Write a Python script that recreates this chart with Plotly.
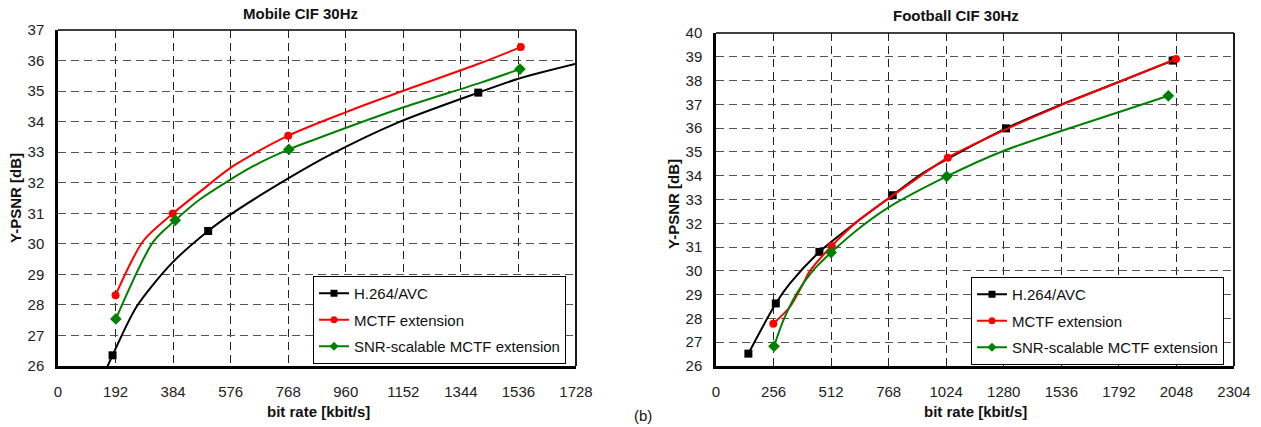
import plotly.graph_objects as go

W, H = 1261, 427

# ---------------- data: Mobile CIF 30Hz ----------------
mob_x_ticks = [0, 192, 384, 576, 768, 960, 1152, 1344, 1536, 1728]
mob_y_ticks = list(range(26, 38))

mob_h264_curve_x = [162, 182, 262, 379, 501, 585, 768, 907, 1141, 1402, 1541, 1747]
mob_h264_curve_y = [25.92, 26.35, 27.94, 29.36, 30.42, 31.02, 32.14, 32.91, 34.0, 34.95, 35.42, 35.94]
mob_h264_mark_x = [182, 501, 1402]
mob_h264_mark_y = [26.35, 30.42, 34.95]

mob_mctf_curve_x = [192, 285, 383, 474, 585, 768, 963, 1152, 1408, 1544]
mob_mctf_curve_y = [28.32, 30.1, 30.99, 31.71, 32.55, 33.54, 34.32, 35.01, 35.91, 36.44]
mob_mctf_mark_x = [192, 383, 768, 1544]
mob_mctf_mark_y = [28.32, 30.99, 33.54, 36.44]

mob_snr_curve_x = [193, 318, 391, 474, 651, 770, 852, 1141, 1408, 1541]
mob_snr_curve_y = [27.54, 30.07, 30.77, 31.46, 32.54, 33.09, 33.40, 34.43, 35.27, 35.72]
mob_snr_mark_x = [193, 391, 770, 1541]
mob_snr_mark_y = [27.54, 30.77, 33.09, 35.72]

# ---------------- data: Football CIF 30Hz ----------------
fb_x_ticks = [0, 256, 512, 768, 1024, 1280, 1536, 1792, 2048, 2304]
fb_y_ticks = list(range(26, 41))

fb_h264_curve_x = [144, 266, 329, 460, 626, 786, 922, 1290, 1530, 1797, 2031]
fb_h264_curve_y = [26.52, 28.63, 29.47, 30.8, 32.06, 33.18, 34.12, 35.99, 36.97, 37.96, 38.84]
fb_h264_mark_x = [144, 266, 460, 786, 1290, 2031]
fb_h264_mark_y = [26.52, 28.63, 30.8, 33.18, 35.99, 38.84]

fb_mctf_curve_x = [255, 329, 388, 418, 515, 626, 863, 1031, 1290, 1530, 1797, 2046]
fb_mctf_curve_y = [27.78, 28.49, 29.47, 30.0, 31.05, 32.06, 33.68, 34.76, 35.95, 36.95, 37.96, 38.91]
fb_mctf_mark_x = [255, 515, 1031, 2046]
fb_mctf_mark_y = [27.78, 31.05, 34.76, 38.91]

fb_snr_curve_x = [258, 300, 359, 433, 512, 626, 759, 1026, 1278, 1797, 2012]
fb_snr_curve_y = [26.83, 27.93, 29.05, 30.03, 30.77, 31.71, 32.62, 33.97, 35.04, 36.69, 37.36]
fb_snr_mark_x = [258, 512, 1026, 2012]
fb_snr_mark_y = [26.83, 30.77, 33.97, 37.36]

series_names = ["H.264/AVC", "MCTF extension", "SNR-scalable MCTF extension"]
series_colors = ["#000000", "#ff0000", "#008000"]
series_symbols = ["square", "circle", "diamond"]

FONT = "Arial, 'Liberation Sans', sans-serif"

fig = go.Figure()

panels = [
    ("x", "y", "legend", [
        (mob_h264_curve_x, mob_h264_curve_y, mob_h264_mark_x, mob_h264_mark_y),
        (mob_mctf_curve_x, mob_mctf_curve_y, mob_mctf_mark_x, mob_mctf_mark_y),
        (mob_snr_curve_x, mob_snr_curve_y, mob_snr_mark_x, mob_snr_mark_y),
    ]),
    ("x2", "y2", "legend2", [
        (fb_h264_curve_x, fb_h264_curve_y, fb_h264_mark_x, fb_h264_mark_y),
        (fb_mctf_curve_x, fb_mctf_curve_y, fb_mctf_mark_x, fb_mctf_mark_y),
        (fb_snr_curve_x, fb_snr_curve_y, fb_snr_mark_x, fb_snr_mark_y),
    ]),
]

for xa, ya, leg, data in panels:
    for i, (cx, cy, mx, my) in enumerate(data):
        col = series_colors[i]
        fig.add_trace(go.Scatter(
            x=cx, y=cy, xaxis=xa, yaxis=ya, mode="lines",
            line=dict(color=col, width=2, shape="spline", smoothing=0.8),
            showlegend=False, cliponaxis=False, hoverinfo="skip"))
        fig.add_trace(go.Scatter(
            x=mx, y=my, xaxis=xa, yaxis=ya, mode="markers",
            marker=dict(color=col, size=8 if series_symbols[i] != "diamond" else 9,
                        symbol=series_symbols[i]),
            showlegend=False, cliponaxis=False))
        fig.add_trace(go.Scatter(
            x=[None], y=[None], xaxis=xa, yaxis=ya, mode="lines+markers",
            line=dict(color=col, width=2),
            marker=dict(color=col, size=7, symbol=series_symbols[i]),
            name=series_names[i], legend=leg, legendgroup=leg + str(i),
            showlegend=True))

def px_x(p):
    return p / W

def px_y(p):
    return 1 - p / H

grid_common = dict(showgrid=True, griddash="8px,5px", gridwidth=1, zeroline=False,
                   showline=True, linecolor="black", linewidth=2.5, ticks="",
                   automargin=False,
                   tickfont=dict(family=FONT, size=15, color="#222"))

fig.update_layout(
    width=W, height=H, margin=dict(l=0, r=0, t=0, b=0, autoexpand=False),
    paper_bgcolor="white", plot_bgcolor="white",
    xaxis=dict(domain=[px_x(58), px_x(576)], range=[0, 1728], tickvals=mob_x_ticks,
               gridcolor="#222", anchor="y", ticklabelstandoff=10, **grid_common),
    yaxis=dict(domain=[px_y(366), px_y(30)], range=[26, 37], tickvals=mob_y_ticks,
               gridcolor="#555", anchor="x", ticklabelstandoff=8, **grid_common),
    xaxis2=dict(domain=[px_x(716), px_x(1234)], range=[0, 2304], tickvals=fb_x_ticks,
                gridcolor="#222", anchor="y2", ticklabelstandoff=10, **grid_common),
    yaxis2=dict(domain=[px_y(366), px_y(33)], range=[26, 40], tickvals=fb_y_ticks,
                gridcolor="#555", anchor="x2", ticklabelstandoff=8, **grid_common),
    legend=dict(x=px_x(313), y=px_y(276), xanchor="left", yanchor="top",
                bgcolor="white", bordercolor="black", borderwidth=1,
                font=dict(family=FONT, size=15, color="#111"),
                tracegroupgap=4, traceorder="grouped"),
    legend2=dict(x=px_x(971), y=px_y(277), xanchor="left", yanchor="top",
                 bgcolor="white", bordercolor="black", borderwidth=1,
                 font=dict(family=FONT, size=15, color="#111"),
                 tracegroupgap=4, traceorder="grouped"),
)

# top/right frame lines (thinner than left/bottom axes)
for xa, ya in [("x", "y"), ("x2", "y2")]:
    fig.add_shape(type="line", xref=xa + " domain", yref=ya + " domain",
                  x0=0, x1=1, y0=1, y1=1, line=dict(color="black", width=1.5))
    fig.add_shape(type="line", xref=xa + " domain", yref=ya + " domain",
                  x0=1, x1=1, y0=0, y1=1, line=dict(color="black", width=1.8))

bold = dict(family=FONT, size=15, color="#111")
annots = [
    ("<b>Mobile CIF 30Hz</b>", 300, 13, 0),
    ("<b>Football CIF 30Hz</b>", 956, 15, 0),
    ("<b>bit rate [kbit/s]</b>", 318, 411, 0),
    ("<b>bit rate [kbit/s]</b>", 975, 411, 0),
    ("<b>Y-PSNR [dB]</b>", 15, 198, -90),
    ("<b>Y-PSNR [dB]</b>", 673, 204, -90),
]
for text, x, y, ang in annots:
    fig.add_annotation(text=text, x=px_x(x), y=px_y(y), xref="paper", yref="paper",
                       xanchor="center", yanchor="middle", showarrow=False,
                       textangle=ang, font=bold)

fig.add_annotation(text="(b)", x=px_x(643), y=px_y(426), xref="paper", yref="paper",
                   xanchor="center", yanchor="bottom", showarrow=False,
                   font=dict(family=FONT, size=15, color="#111"))

fig.write_html(
    "out.html",
    config={"displayModeBar": False},
    post_script=("}); document.body.style.margin='0'; "
                 "document.documentElement.style.overflow='hidden'; (function(){"),
)
